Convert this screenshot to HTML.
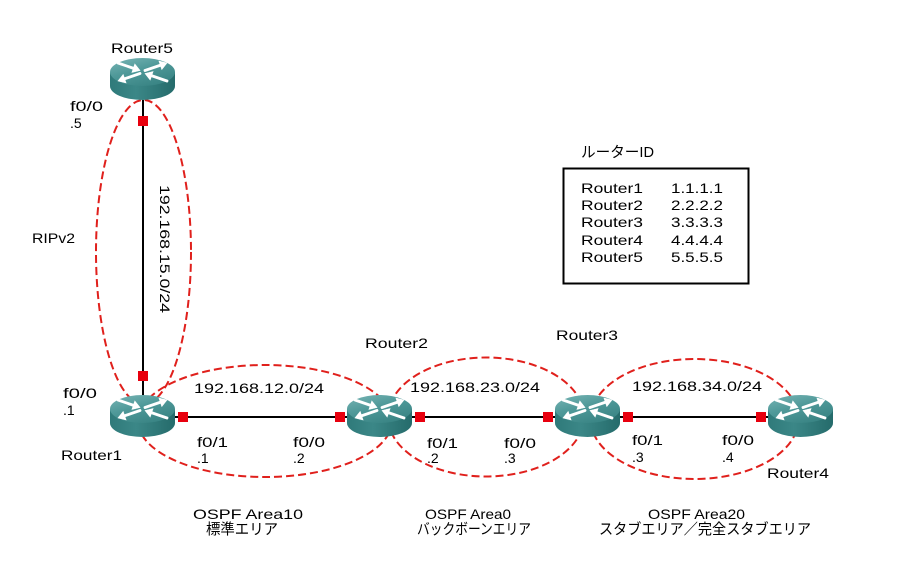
<!DOCTYPE html>
<html>
<head>
<meta charset="utf-8">
<style>
html,body{margin:0;padding:0;background:#fff;}
svg{display:block;}
text{font-family:"Liberation Sans","Noto Sans CJK JP",sans-serif;font-size:14px;fill:#000;}
.j{font-family:"Liberation Sans","Noto Sans CJK JP",sans-serif;font-size:15px;}
</style>
</head>
<body>
<svg width="897" height="588" viewBox="0 0 897 588" xmlns="http://www.w3.org/2000/svg">
<defs>
  <linearGradient id="gTop" x1="0" y1="0" x2="0.6" y2="1">
    <stop offset="0" stop-color="#79b5b5"/>
    <stop offset="0.5" stop-color="#4f9999"/>
    <stop offset="1" stop-color="#3a8585"/>
  </linearGradient>
  <linearGradient id="gBody" x1="0" y1="0" x2="1" y2="0">
    <stop offset="0" stop-color="#2f7a7a"/>
    <stop offset="0.4" stop-color="#3b8787"/>
    <stop offset="1" stop-color="#256b6b"/>
  </linearGradient>
  <g id="rt">
    <path d="M0,14 L0,28 A32.5,14 0 0 0 65,28 L65,14 Z" fill="url(#gBody)"/>
    <ellipse cx="32.5" cy="14" rx="32.5" ry="14" fill="url(#gTop)"/>
    <g fill="#fff" stroke="#fff" stroke-width="2.8" stroke-linecap="round">
      <line x1="8" y1="5" x2="24" y2="10.5"/>
      <polygon points="30,12.5 21.92,14.5 24.82,5.98" stroke-width="0.6"/>
      <line x1="57" y1="23" x2="41" y2="17.5"/>
      <polygon points="35,15.5 40.18,22.02 43.08,13.5" stroke-width="0.6"/>
      <line x1="35" y1="12.5" x2="51" y2="7"/>
      <polygon points="57,5 51.82,11.52 48.92,3.0" stroke-width="0.6"/>
      <line x1="30" y1="15.5" x2="14" y2="21"/>
      <polygon points="8,23 16.08,25.0 13.18,16.48" stroke-width="0.6"/>
    </g>
  </g>
</defs>

<!-- dashed area ellipses -->
<g fill="none" stroke="#e0201c" stroke-width="2" stroke-dasharray="8 4">
  <ellipse cx="143.5" cy="252" rx="47.5" ry="152"/>
  <ellipse cx="265" cy="421" rx="127" ry="56"/>
  <ellipse cx="486" cy="417" rx="98" ry="59.5"/>
  <ellipse cx="694.5" cy="419" rx="104" ry="60"/>
</g>

<!-- links -->
<g stroke="#000" stroke-width="2">
  <line x1="143" y1="100" x2="143" y2="396"/>
  <line x1="175" y1="417" x2="347" y2="417"/>
  <line x1="412" y1="417" x2="555" y2="417"/>
  <line x1="620" y1="417" x2="768" y2="417"/>
</g>

<!-- routers -->
<use href="#rt" x="110" y="58"/>
<use href="#rt" x="110" y="395"/>
<use href="#rt" x="347" y="395"/>
<use href="#rt" x="555" y="395"/>
<use href="#rt" x="768" y="395"/>

<!-- interface squares -->
<g fill="#e8000e">
  <rect x="138" y="116" width="10" height="10"/>
  <rect x="138" y="371" width="10" height="10"/>
  <rect x="178" y="412" width="10" height="10"/>
  <rect x="335" y="412" width="10" height="10"/>
  <rect x="415" y="412" width="10" height="10"/>
  <rect x="543" y="412" width="10" height="10"/>
  <rect x="623" y="412" width="10" height="10"/>
  <rect x="756" y="412" width="10" height="10"/>
</g>

<!-- router ID box -->
<rect x="563.5" y="168.5" width="185" height="115" fill="none" stroke="#000" stroke-width="2"/>
<text class="j" x="581" y="157" textLength="73" lengthAdjust="spacingAndGlyphs">ルーターID</text>
<text x="581" y="193" textLength="62" lengthAdjust="spacingAndGlyphs">Router1</text>
<text x="671" y="193" textLength="52" lengthAdjust="spacingAndGlyphs">1.1.1.1</text>
<text x="581" y="210" textLength="62" lengthAdjust="spacingAndGlyphs">Router2</text>
<text x="671" y="210" textLength="52" lengthAdjust="spacingAndGlyphs">2.2.2.2</text>
<text x="581" y="227" textLength="62" lengthAdjust="spacingAndGlyphs">Router3</text>
<text x="671" y="227" textLength="52" lengthAdjust="spacingAndGlyphs">3.3.3.3</text>
<text x="581" y="245" textLength="62" lengthAdjust="spacingAndGlyphs">Router4</text>
<text x="671" y="245" textLength="52" lengthAdjust="spacingAndGlyphs">4.4.4.4</text>
<text x="581" y="262" textLength="62" lengthAdjust="spacingAndGlyphs">Router5</text>
<text x="671" y="262" textLength="52" lengthAdjust="spacingAndGlyphs">5.5.5.5</text>

<!-- router labels -->
<text x="111" y="53" textLength="62" lengthAdjust="spacingAndGlyphs">Router5</text>
<text x="61" y="460" textLength="61" lengthAdjust="spacingAndGlyphs">Router1</text>
<text x="365" y="348" textLength="63" lengthAdjust="spacingAndGlyphs">Router2</text>
<text x="556" y="340" textLength="62" lengthAdjust="spacingAndGlyphs">Router3</text>
<text x="767" y="478" textLength="62" lengthAdjust="spacingAndGlyphs">Router4</text>

<!-- R5 interface -->
<text x="70" y="111" textLength="33" lengthAdjust="spacingAndGlyphs">f0/0</text>
<text x="70" y="128">.5</text>
<text x="32" y="243" textLength="43" lengthAdjust="spacingAndGlyphs">RIPv2</text>
<text transform="translate(160,185) rotate(90)" x="0" y="0" textLength="128" lengthAdjust="spacingAndGlyphs">192.168.15.0/24</text>

<!-- R1 -->
<text x="63" y="398" textLength="34" lengthAdjust="spacingAndGlyphs">f0/0</text>
<text x="63" y="415">.1</text>

<!-- Area10 link -->
<text x="194" y="393" textLength="130" lengthAdjust="spacingAndGlyphs">192.168.12.0/24</text>
<text x="197" y="447" textLength="31" lengthAdjust="spacingAndGlyphs">f0/1</text>
<text x="197" y="463">.1</text>
<text x="293" y="447" textLength="32" lengthAdjust="spacingAndGlyphs">f0/0</text>
<text x="293" y="463">.2</text>

<!-- Area0 link -->
<text x="410" y="392" textLength="130" lengthAdjust="spacingAndGlyphs">192.168.23.0/24</text>
<text x="427" y="448" textLength="31" lengthAdjust="spacingAndGlyphs">f0/1</text>
<text x="427" y="463">.2</text>
<text x="504" y="448" textLength="32" lengthAdjust="spacingAndGlyphs">f0/0</text>
<text x="504" y="463">.3</text>

<!-- Area20 link -->
<text x="632" y="391" textLength="130" lengthAdjust="spacingAndGlyphs">192.168.34.0/24</text>
<text x="632" y="445" textLength="31" lengthAdjust="spacingAndGlyphs">f0/1</text>
<text x="632" y="462">.3</text>
<text x="722" y="445" textLength="32" lengthAdjust="spacingAndGlyphs">f0/0</text>
<text x="722" y="462">.4</text>

<!-- area captions -->
<text x="193" y="519" textLength="110" lengthAdjust="spacingAndGlyphs">OSPF Area10</text>
<text class="j" x="206" y="534" textLength="72" lengthAdjust="spacingAndGlyphs">標準エリア</text>
<text x="425" y="519" textLength="86" lengthAdjust="spacingAndGlyphs">OSPF Area0</text>
<text class="j" x="417" y="534" textLength="114" lengthAdjust="spacingAndGlyphs">バックボーンエリア</text>
<text x="648" y="519" textLength="97" lengthAdjust="spacingAndGlyphs">OSPF Area20</text>
<text class="j" x="599" y="534" textLength="212" lengthAdjust="spacingAndGlyphs">スタブエリア／完全スタブエリア</text>
</svg>
</body>
</html>
